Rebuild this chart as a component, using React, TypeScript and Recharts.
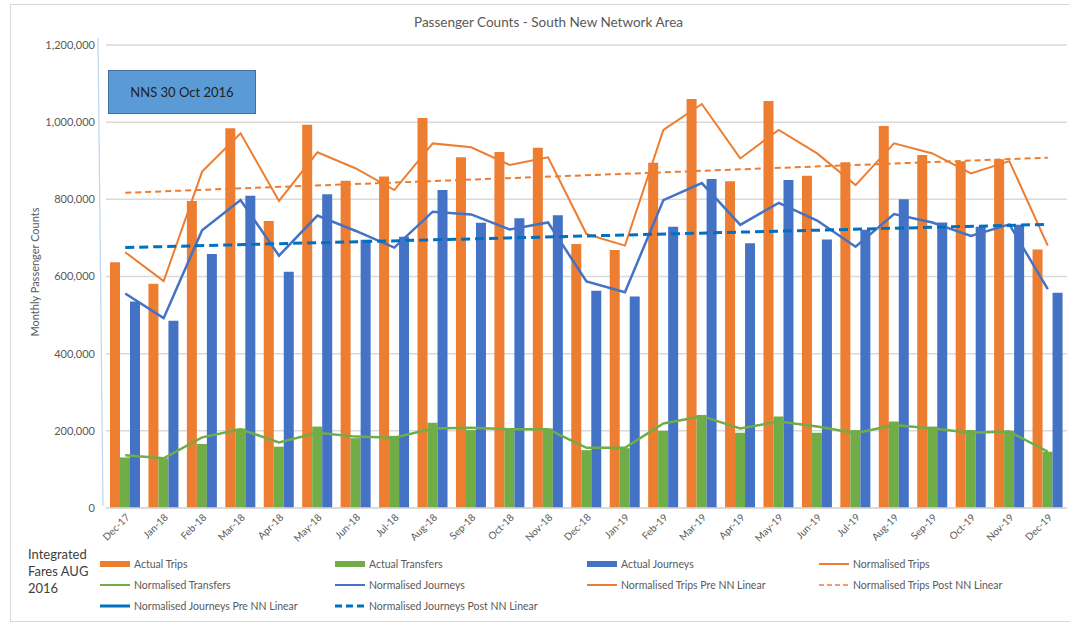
import {
  ComposedChart,
  Bar,
  Line,
  XAxis,
  YAxis,
  CartesianGrid,
} from 'recharts'

const months = [
  'Dec-17', 'Jan-18', 'Feb-18', 'Mar-18', 'Apr-18', 'May-18', 'Jun-18', 'Jul-18', 'Aug-18',
  'Sep-18', 'Oct-18', 'Nov-18', 'Dec-18', 'Jan-19', 'Feb-19', 'Mar-19', 'Apr-19', 'May-19',
  'Jun-19', 'Jul-19', 'Aug-19', 'Sep-19', 'Oct-19', 'Nov-19', 'Dec-19',
]

const actualTrips = [
  637000, 581000, 796000, 984000, 744000, 993000, 848000, 859000, 1011000, 909000, 923000, 934000,
  684000, 669000, 895000, 1060000, 847000, 1055000, 861000, 896000, 990000, 915000, 899000, 904000,
  670000,
]
const actualTransfers = [
  131000, 129000, 166000, 206000, 159000, 211000, 181000, 187000, 221000, 202000, 206000, 206000,
  150000, 155000, 200000, 241000, 195000, 237000, 195000, 202000, 224000, 211000, 202000, 200000,
  146000,
]
const actualJourneys = [
  535000, 485000, 658000, 809000, 612000, 813000, 695000, 703000, 824000, 739000, 751000, 759000,
  563000, 548000, 729000, 853000, 686000, 850000, 696000, 721000, 800000, 740000, 729000, 734000,
  558000,
]
const normalisedTrips = [
  663000, 588000, 872000, 971000, 796000, 922000, 880000, 824000, 945000, 935000, 889000, 909000,
  710000, 680000, 980000, 1047000, 906000, 980000, 919000, 837000, 945000, 919000, 867000, 899000,
  680000,
]
const normalisedTransfers = [
  137000, 129000, 183000, 204000, 170000, 195000, 185000, 182000, 206000, 208000, 204000, 204000,
  156000, 156000, 219000, 238000, 206000, 224000, 211000, 194000, 215000, 206000, 195000, 198000,
  146000,
]
const normalisedJourneys = [
  556000, 492000, 720000, 798000, 654000, 758000, 718000, 675000, 768000, 761000, 722000, 740000,
  587000, 559000, 798000, 842000, 734000, 791000, 745000, 677000, 762000, 740000, 705000, 735000,
  567000,
]
// linear trendlines: only the two end points, joined straight
const tripsPostTrend = [817000, 908000]
const journeysPostTrend = [675000, 735000]

const yTicks = [0, 200000, 400000, 600000, 800000, 1000000, 1200000]

const ORANGE = '#ed7d31'
const GREEN = '#70ad47'
const BLUE = '#4472c4'
const TREND_BLUE = '#0070c0'
const FONT = 'Lato, "Open Sans", sans-serif'

const last = months.length - 1
const data = months.map((m, i) => ({
  month: m,
  actualTrips: actualTrips[i],
  actualTransfers: actualTransfers[i],
  actualJourneys: actualJourneys[i],
  normalisedTrips: normalisedTrips[i],
  normalisedTransfers: normalisedTransfers[i],
  normalisedJourneys: normalisedJourneys[i],
  tripsPost: i === 0 ? tripsPostTrend[0] : i === last ? tripsPostTrend[1] : null,
  journeysPost: i === 0 ? journeysPostTrend[0] : i === last ? journeysPostTrend[1] : null,
}))

type LegendItem = { name: string; kind: 'bar' | 'line' | 'dash'; color: string; width?: number }

const legendItems: LegendItem[] = [
  { name: 'Actual Trips', kind: 'bar', color: ORANGE },
  { name: 'Actual Transfers', kind: 'bar', color: GREEN },
  { name: 'Actual Journeys', kind: 'bar', color: BLUE },
  { name: 'Normalised Trips', kind: 'line', color: ORANGE },
  { name: 'Normalised Transfers', kind: 'line', color: GREEN },
  { name: 'Normalised Journeys', kind: 'line', color: BLUE },
  { name: 'Normalised Trips Pre NN Linear', kind: 'line', color: ORANGE },
  { name: 'Normalised Trips Post NN Linear', kind: 'dash', color: ORANGE, width: 1.5 },
  { name: 'Normalised Journeys Pre NN Linear', kind: 'line', color: TREND_BLUE, width: 3 },
  { name: 'Normalised Journeys Post NN Linear', kind: 'dash', color: TREND_BLUE, width: 3 },
]

const legendCols = [100, 335, 587, 819]

function Swatch({ item }: { item: LegendItem }) {
  if (item.kind === 'bar') {
    return (
      <svg width={30} height={10} style={{ display: 'block' }}>
        <rect x={0} y={2} width={30} height={6} fill={item.color} />
      </svg>
    )
  }
  return (
    <svg width={30} height={10} style={{ display: 'block' }}>
      <line
        x1={0}
        x2={30}
        y1={5}
        y2={5}
        stroke={item.color}
        strokeWidth={item.width ?? 2}
        strokeDasharray={item.kind === 'dash' ? (item.width === 3 ? '7 4' : '5 3') : undefined}
      />
    </svg>
  )
}

export default function App() {
  return (
    <div
      style={{
        position: 'fixed',
        left: 0,
        top: 0,
        width: 1070,
        height: 622,
        background: '#fff',
        fontFamily: FONT,
        overflow: 'hidden',
      }}
    >
      <div
        style={{
          position: 'absolute',
          left: 10,
          top: 4,
          width: 1080,
          height: 616,
          border: '1px solid #d9d9d9',
        }}
      />
      <div
        style={{
          position: 'absolute',
          left: 0,
          width: 1097,
          top: 14,
          textAlign: 'center',
          fontSize: 13.5,
          color: '#595959',
        }}
      >
        Passenger Counts - South New Network Area
      </div>
      <div
        style={{
          position: 'absolute',
          left: 34,
          top: 272,
          transform: 'translate(-50%, -50%) rotate(-90deg)',
          whiteSpace: 'nowrap',
          fontSize: 11,
          color: '#595959',
        }}
      >
        Monthly Passenger Counts
      </div>

      <ComposedChart
        width={1070}
        height={622}
        data={data}
        margin={{ top: 45, right: 3, bottom: 64, left: 40 }}
        barCategoryGap={4}
        barGap={0}
        style={{ position: 'absolute', left: 0, top: 0 }}
      >
        <CartesianGrid vertical={false} stroke="#d9d9d9" strokeWidth={1.5} />
        <XAxis
          dataKey="month"
          interval={0}
          height={50}
          angle={-45}
          textAnchor="end"
          tickSize={0}
          tickMargin={5}
          tick={{ fill: '#595959', fontSize: 10, fontFamily: FONT }}
          axisLine={{ stroke: '#d9d9d9', strokeWidth: 1.5 }}
        />
        <YAxis
          width={66}
          domain={[0, 1200000]}
          ticks={yTicks}
          tickFormatter={(v: number) => v.toLocaleString('en-US')}
          tickSize={0}
          tickMargin={11}
          tick={{ fill: '#595959', fontSize: 11, fontFamily: FONT }}
          axisLine={false}
          tickLine={false}
        />
        <Bar dataKey="actualTrips" fill={ORANGE} isAnimationActive={false} />
        <Bar dataKey="actualTransfers" fill={GREEN} isAnimationActive={false} />
        <Bar dataKey="actualJourneys" fill={BLUE} isAnimationActive={false} />
        <Line
          dataKey="normalisedTrips"
          stroke={ORANGE}
          strokeWidth={2}
          dot={false}
          isAnimationActive={false}
        />
        <Line
          dataKey="normalisedTransfers"
          stroke={GREEN}
          strokeWidth={2.5}
          dot={false}
          isAnimationActive={false}
        />
        <Line
          dataKey="normalisedJourneys"
          stroke={BLUE}
          strokeWidth={2.5}
          dot={false}
          isAnimationActive={false}
        />
        <Line
          dataKey="tripsPost"
          stroke={ORANGE}
          strokeWidth={2}
          strokeDasharray="6 4"
          connectNulls
          dot={false}
          isAnimationActive={false}
        />
        <Line
          dataKey="journeysPost"
          stroke={TREND_BLUE}
          strokeWidth={3}
          strokeDasharray="9 5"
          connectNulls
          dot={false}
          isAnimationActive={false}
        />
      </ComposedChart>

      {/* hand-drawn marker line along the value axis */}
      <svg width={1070} height={622} style={{ position: 'absolute', left: 0, top: 0, pointerEvents: 'none' }}>
        <line x1={98} y1={38} x2={103} y2={506} stroke="#bdd7ee" strokeWidth={1.2} />
      </svg>

      <div
        style={{
          position: 'absolute',
          left: 108,
          top: 70,
          width: 146,
          height: 42,
          background: '#5b9bd5',
          border: '1px solid #41719c',
          display: 'flex',
          alignItems: 'center',
          justifyContent: 'center',
          fontSize: 13,
          color: '#1f1f1f',
        }}
      >
        NNS 30 Oct 2016
      </div>

      <div
        style={{
          position: 'absolute',
          left: 28,
          top: 546,
          fontSize: 13,
          lineHeight: '17px',
          color: '#404040',
        }}
      >
        Integrated
        <br />
        Fares AUG
        <br />
        2016
      </div>

      {legendItems.map((item, i) => (
        <div
          key={item.name}
          style={{
            position: 'absolute',
            left: legendCols[i % 4],
            top: 558 + Math.floor(i / 4) * 21,
            display: 'flex',
            alignItems: 'center',
            gap: 4,
            fontSize: 10.5,
            color: '#595959',
            whiteSpace: 'nowrap',
          }}
        >
          <Swatch item={item} />
          <span>{item.name}</span>
        </div>
      ))}
    </div>
  )
}
